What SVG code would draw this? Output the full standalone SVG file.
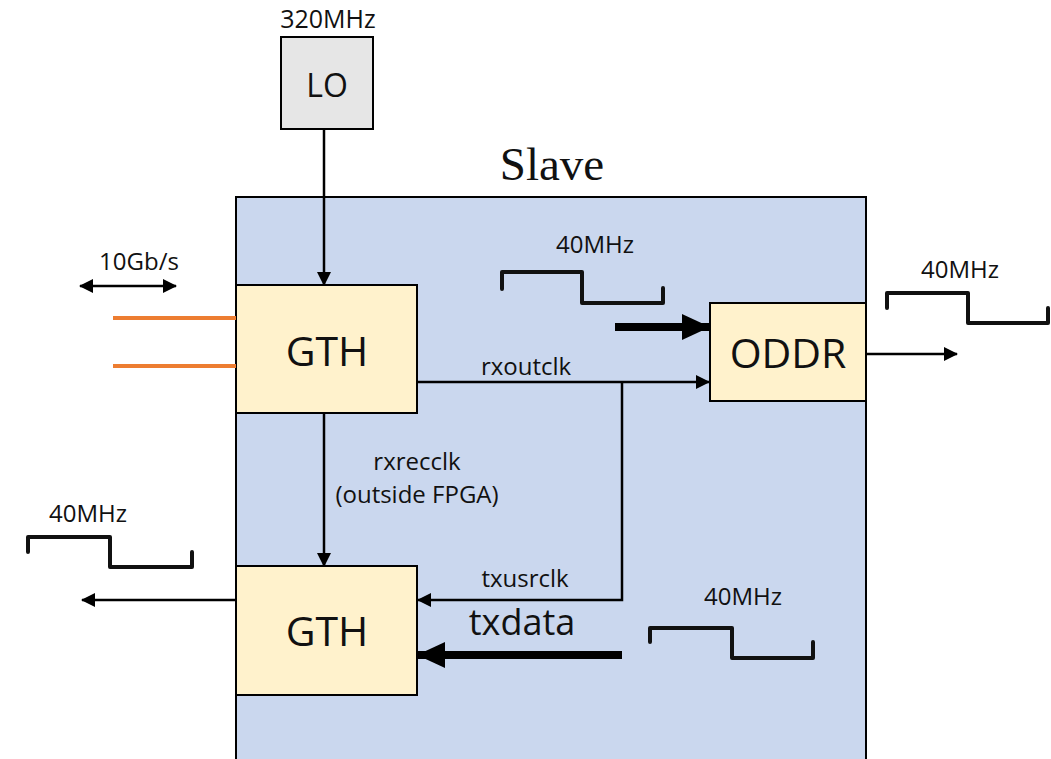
<svg xmlns="http://www.w3.org/2000/svg" width="1051" height="759" viewBox="0 0 1051 759">
<defs>
<style>
text{font-family:"Open Sans","Liberation Sans",sans-serif;fill:#111;text-anchor:middle}
.box{stroke:#000;stroke-width:2}
.blk{fill:#FFF2CC}
.ln{stroke:#000;stroke-width:2.5;fill:none}
.thick{stroke:#000;stroke-width:8;fill:none}
.wave{stroke:#111;stroke-width:4;fill:none;stroke-linejoin:round;stroke-linecap:round}
.lbl{font-size:24px}
.big{font-size:41px}
</style>
<marker id="ahs" markerWidth="14" markerHeight="14" refX="13" refY="7" orient="auto" markerUnits="userSpaceOnUse" viewBox="0 0 14 14">
<path d="M0,0 L14,7 L0,14 Z" fill="#000"/>
</marker>
<marker id="ahst" markerWidth="14" markerHeight="14" refX="1" refY="7" orient="auto" markerUnits="userSpaceOnUse" viewBox="0 0 14 14">
<path d="M14,0 L0,7 L14,14 Z" fill="#000"/>
</marker>
<marker id="ahb" markerWidth="28" markerHeight="26" refX="27" refY="13" orient="auto" markerUnits="userSpaceOnUse" viewBox="0 0 28 26">
<path d="M0,0 L28,13 L0,26 Z" fill="#000"/>
</marker>
</defs>

<g id="slave">
<rect x="236" y="197" width="630" height="580" fill="#CAD7EE" class="box"/>
<text x="552" y="180" style="font-family:'Liberation Serif',serif;font-size:47px">Slave</text>
</g>

<g id="lo">
<text x="328" y="28" style="font-size:25px">320MHz</text>
<rect x="281" y="37" width="92" height="92" fill="#E6E6E6" class="box"/>
<text x="327" y="97" style="font-size:32px">LO</text>
</g>

<g id="gth-top">
<rect x="236" y="285" width="181" height="128" class="box blk"/>
<text x="327" y="366" class="big">GTH</text>
</g>

<g id="gth-bottom">
<rect x="236" y="566" width="181" height="129" class="box blk"/>
<text x="327" y="646" class="big">GTH</text>
</g>

<g id="oddr">
<rect x="710" y="303" width="156" height="98" class="box blk"/>
<text x="788" y="368" class="big">ODDR</text>
</g>

<g id="connectors">
<line x1="324" y1="129" x2="324" y2="285" class="ln" marker-end="url(#ahs)"/>
<line x1="113" y1="318" x2="236" y2="318" stroke="#ED7D31" stroke-width="4"/>
<line x1="113" y1="366" x2="236" y2="366" stroke="#ED7D31" stroke-width="4"/>
<line x1="80" y1="286" x2="176" y2="286" class="ln" marker-start="url(#ahst)" marker-end="url(#ahs)"/>
<line x1="417" y1="382" x2="709" y2="382" class="ln" marker-end="url(#ahs)"/>
<polyline points="622,382 622,600 418,600" class="ln" marker-end="url(#ahs)"/>
<line x1="324" y1="413" x2="324" y2="566" class="ln" marker-end="url(#ahs)"/>
<line x1="615" y1="327" x2="709" y2="327" class="thick" marker-end="url(#ahb)"/>
<line x1="622" y1="655" x2="418" y2="655" class="thick" marker-end="url(#ahb)"/>
<line x1="866" y1="354" x2="957" y2="354" class="ln" marker-end="url(#ahs)"/>
<line x1="236" y1="600" x2="82" y2="600" class="ln" marker-end="url(#ahs)"/>
</g>

<g id="labels">
<text x="139" y="270" class="lbl">10Gb/s</text>
<text x="526" y="375" class="lbl">rxoutclk</text>
<text x="417" y="470" class="lbl">rxrecclk</text>
<text x="417" y="503" class="lbl">(outside FPGA)</text>
<text x="525" y="587" class="lbl">txusrclk</text>
<text x="522" y="635" style="font-size:36px">txdata</text>
</g>

<g id="waves">
<path d="M502,289 V272 H582 V303 H663 V288" class="wave"/>
<text x="595" y="253" class="lbl">40MHz</text>
<path d="M887,308 V293 H968 V323 H1048 V308" class="wave"/>
<text x="960" y="278" class="lbl">40MHz</text>
<path d="M28,552 V537 H110 V567 H192 V552" class="wave"/>
<text x="88" y="522" class="lbl">40MHz</text>
<path d="M650,642 V628 H732 V658 H813 V642" class="wave"/>
<text x="743" y="605" class="lbl">40MHz</text>
</g>
</svg>
